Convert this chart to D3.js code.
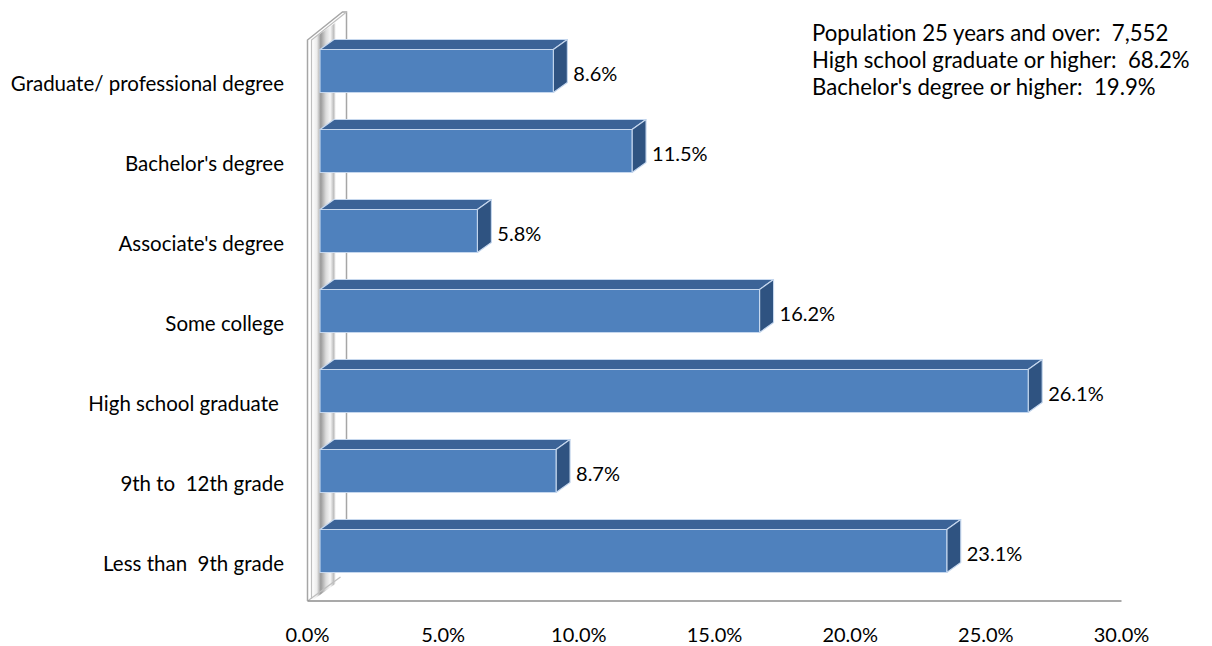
<!DOCTYPE html>
<html><head><meta charset="utf-8">
<script src="https://cdn.jsdelivr.net/npm/d3@7"></script>
<style>html,body{margin:0;padding:0;background:#fff;}svg{display:block;font-family:Lato,'Open Sans',sans-serif;font-variant-ligatures:none;}svg text{white-space:pre;}</style>
</head><body>
<svg id="chart" width="1212" height="646"></svg>
<script>
const categories = ["Graduate/ professional degree","Bachelor's degree","Associate's degree","Some college","High school graduate ","9th to  12th grade","Less than  9th grade"];
const values = [8.6, 11.5, 5.8, 16.2, 26.1, 8.7, 23.1];
const tickValues = [0, 5, 10, 15, 20, 25, 30];
const infoLines = ["Population 25 years and over:  7,552","High school graduate or higher:  68.2%","Bachelor's degree or higher:  19.9%"];

const svg = d3.select("#chart");
const floorY = 601;
const x = d3.scaleLinear().domain([0, 30]).range([307.5, 1121.5]);
const y = d3.scaleBand().domain(categories).range([42, 602]);
const barOff = {dx: 12.5, dy: -11};   // bar front plane relative to axis plane
const barDepth = {dx: 14, dy: -10};
const wallDepth = {dx: 39, dy: -28};
const barH = 43;

// wall gradient
const defs = svg.append("defs");
const g = defs.append("linearGradient").attr("id","wallGrad")
  .attr("gradientUnits","userSpaceOnUse").attr("x1",312).attr("x2",347).attr("y1",0).attr("y2",0);
[[0,"#ffffff"],[0.14,"#ececec"],[0.25,"#9a9a9a"],[0.4,"#dcdcdc"],[0.52,"#f6f6f6"],[0.62,"#bdbdbd"],[0.68,"#ffffff"],[1,"#ffffff"]]
  .forEach(([o,c]) => g.append("stop").attr("offset",o).attr("stop-color",c));

const wx0 = x(0), wTop = 40;
svg.append("path")
  .attr("d", `M${wx0+4},${wTop} L${wx0+4+wallDepth.dx},${wTop+wallDepth.dy} L${wx0+4+wallDepth.dx},${floorY+wallDepth.dy} L${wx0+4},${floorY} Z`)
  .attr("fill","url(#wallGrad)").attr("stroke","none");
const wallStroke = "#a6a6a6";
svg.append("path")
  .attr("d", `M${wx0},${floorY} L${wx0},${wTop} L${wx0+wallDepth.dx-4},${wTop+wallDepth.dy} L${wx0+wallDepth.dx},${wTop+wallDepth.dy} L${wx0+wallDepth.dx},${floorY+wallDepth.dy}`)
  .attr("fill","none").attr("stroke",wallStroke).attr("stroke-width",1.5);
svg.append("path")
  .attr("d", `M${wx0+4},${floorY-2} L${wx0+4},${wTop} L${wx0+wallDepth.dx},${wTop+wallDepth.dy}`)
  .attr("fill","none").attr("stroke","#bfbfbf").attr("stroke-width",1.2);
svg.append("path")
  .attr("d", `M${wx0},${floorY} L${wx0+wallDepth.dx - 6},${floorY+wallDepth.dy+4}`)
  .attr("fill","none").attr("stroke","#bfbfbf").attr("stroke-width",1.2);

// floor / axis line
svg.append("line").attr("x1", x(0)).attr("x2", x(30)).attr("y1", floorY).attr("y2", floorY)
  .attr("stroke","#8c8c8c").attr("stroke-width",1.5);

// bars
const bars = svg.append("g");
categories.forEach((c, i) => {
  const v = values[i];
  const cy = y(c) + y.bandwidth()/2 + barOff.dy;
  const top = cy - barH/2, bot = cy + barH/2;
  const x0 = x(0) + barOff.dx, x1 = x(v) + barOff.dx;
  const dx = barDepth.dx, dy = barDepth.dy;
  const gb = bars.append("g").attr("stroke","#c5d7ee").attr("stroke-width",1.1).attr("stroke-linejoin","round");
  gb.append("path").attr("d", `M${x0},${top} L${x0+dx},${top+dy} L${x1+dx},${top+dy} L${x1},${top} Z`).attr("fill","#3b6397");
  gb.append("path").attr("d", `M${x1},${top} L${x1+dx},${top+dy} L${x1+dx},${bot+dy} L${x1},${bot} Z`).attr("fill","#2f5381");
  gb.append("rect").attr("x", x0).attr("y", top).attr("width", x1-x0).attr("height", barH).attr("fill","#4f81bd");
  svg.append("text").attr("x", x1 + dx + 6).attr("y", cy + 2).attr("dominant-baseline","central")
    .attr("font-size", 20).attr("fill","#000").text(v.toFixed(1) + "%");
});

// category labels
svg.append("g").selectAll("text").data(categories).join("text")
  .attr("x", 284).attr("y", d => y(d) + y.bandwidth()/2 + 1)
  .attr("text-anchor","end").attr("dominant-baseline","central")
  .attr("font-size", 20.5).attr("fill","#000").text(d => d);

// tick labels
svg.append("g").selectAll("text").data(tickValues).join("text")
  .attr("x", d => x(d)).attr("y", 642)
  .attr("text-anchor","middle").attr("font-size", 20).attr("fill","#000")
  .text(d => d.toFixed(1) + "%");

// info
svg.append("g").selectAll("text").data(infoLines).join("text")
  .attr("x", 812).attr("y", (d,i) => 41 + i*27)
  .attr("font-size", 22.2).attr("fill","#000").text(d => d);
</script>
</body></html>
